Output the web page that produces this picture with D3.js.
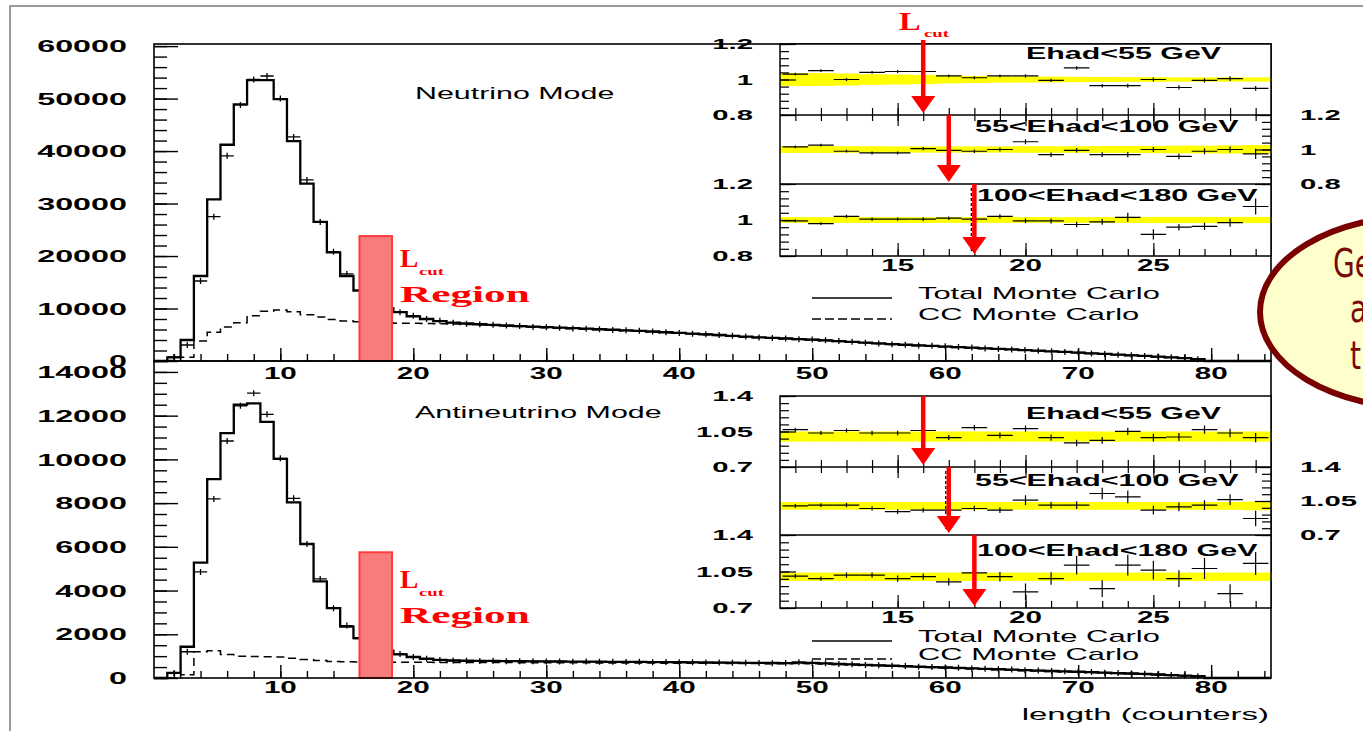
<!DOCTYPE html>
<html>
<head>
<meta charset="utf-8">
<script src="https://cdn.jsdelivr.net/npm/d3@7"></script>
<style>
  body { margin: 0; background: #fff; overflow: hidden; }
</style>
</head>
<body>
<script>
// ---- data ----
const bins = d3.range(1, 85);   // bin centres, length in counters

const nuTotal = [0, 700, 4000, 16200, 30800, 41200, 48900, 53500, 53500, 49900,
  41900, 33800, 26500, 20700, 16200, 13400, 11600, 10000, 9300, 8500,
  8000, 7600, 7300, 7150, 7000, 6880, 6760, 6640, 6540, 6450,
  6350, 6250, 6150, 6050, 5950, 5850, 5750, 5620, 5480, 5350,
  5220, 5080, 4950, 4800, 4650, 4520, 4400, 4290, 4180, 4060,
  3930, 3790, 3640, 3490, 3350, 3220, 3100, 2980, 2870, 2750,
  2640, 2530, 2420, 2310, 2200, 2080, 1960, 1840, 1720, 1600,
  1470, 1350, 1220, 1090, 960, 830, 690, 540, 350, 0,
  0, 0, 0, 0];
const nuCC = [0, 100, 700, 3800, 5500, 6500, 7300, 8600, 9500, 9700,
  9400, 8800, 8400, 7900, 7600, 7500, 7400, 7300, 7200, 7180,
  7150, 7100, 7050, 6950, 6850, 6750, 6650, 6550, 6450, 6350,
  6250, 6150, 6050, 5950, 5850, 5750, 5650, 5530, 5400, 5270,
  5140, 5000, 4870, 4720, 4580, 4450, 4330, 4220, 4110, 3990,
  3860, 3720, 3580, 3430, 3290, 3160, 3040, 2930, 2820, 2700,
  2590, 2480, 2370, 2260, 2150, 2040, 1920, 1800, 1680, 1560,
  1430, 1310, 1190, 1060, 930, 800, 670, 520, 330, 0,
  0, 0, 0, 0];
const nuData = [0, 760, 3050, 15240, 27500, 39100, 48800, 53650, 54300, 50000,
  42700, 34500, 26500, 20800, 16600, 13500, 11500, 10100, 9300, 8600,
  8000, 7650, 7300, 7100, 7000, 6900, 6750, 6650, 6500, 6450,
  6350, 6200, 6150, 6050, 5900, 5850, 5750, 5600, 5500, 5350,
  5200, 5100, 4950, 4800, 4650, 4500, 4400, 4300, 4150, 4100,
  3950, 3800, 3650, 3500, 3350, 3200, 3100, 2950, 2900, 2800,
  2650, 2550, 2400, 2300, 2200, 2100, 1950, 1850, 1700, 1650,
  1450, 1350, 1200, 1100, 950, 850, 700, 550, 350, 0,
  0, 0, 0, 0];

const anuTotal = [0, 230, 1430, 5280, 9100, 11200, 12500, 12560, 11720, 10020,
  8030, 6130, 4420, 3200, 2350, 1820, 1500, 1250, 1080, 960,
  880, 830, 800, 790, 785, 780, 775, 770, 765, 760,
  755, 750, 748, 745, 742, 740, 735, 730, 725, 720,
  715, 710, 705, 700, 695, 690, 685, 680, 700, 690,
  670, 640, 620, 600, 580, 560, 540, 520, 500, 480,
  460, 440, 420, 400, 380, 360, 340, 320, 300, 285,
  265, 245, 225, 205, 185, 160, 135, 110, 80, 0,
  0, 0, 0, 0];
const anuCC = [0, 0, 150, 1200, 1250, 1080, 1000, 980, 975, 960,
  900, 850, 800, 760, 740, 730, 725, 720, 720, 718,
  716, 714, 712, 710, 708, 706, 704, 702, 700, 698,
  696, 694, 692, 690, 688, 686, 684, 682, 680, 678,
  675, 672, 669, 666, 663, 660, 655, 650, 660, 655,
  640, 615, 595, 575, 555, 535, 515, 495, 475, 455,
  435, 415, 395, 375, 355, 335, 315, 295, 275, 260,
  240, 220, 200, 180, 160, 140, 115, 90, 60, 0,
  0, 0, 0, 0];
const anuData = [0, 230, 1200, 4850, 8190, 10840, 12450, 13030, 12060, 10050,
  8220, 6130, 4530, 3190, 2400, 1800, 1500, 1250, 1100, 960,
  880, 820, 800, 790, 780, 790, 770, 765, 770, 755,
  760, 745, 750, 740, 745, 735, 740, 725, 730, 715,
  720, 705, 710, 695, 700, 690, 680, 685, 720, 690,
  670, 640, 625, 600, 585, 560, 545, 520, 505, 480,
  465, 440, 425, 400, 385, 360, 345, 320, 305, 285,
  270, 245, 230, 205, 190, 160, 140, 110, 85, 0,
  0, 0, 0, 0];

const nuYTicks = [0, 10000, 20000, 30000, 40000, 50000, 60000];
const anuYTicks = [0, 2000, 4000, 6000, 8000, 10000, 12000, 14000];
const mainXTicks = [10, 20, 30, 40, 50, 60, 70, 80];
const lcutRegion = [15.95, 18.4];
const lcutHeightNu = 23800;
const lcutHeightAnu = 5750;

// inset ratios (data / MC) in three hadron energy bins
const insetBins = d3.range(11, 30);
const insetXTicks = [15, 20, 25];
const ehadLabels = ["Ehad<55 GeV", "55<Ehad<100 GeV", "100<Ehad<180 GeV"];
const lcutPerBin = [16, 17, 18];

const nuRatio = [
  [1.03, 1.05, 1.0, 1.04, 1.045, 1.045, 1.02, 1.01, 1.02, 1.02, 0.995, 1.065, 0.965, 0.965, 1.0, 0.955, 0.995, 1.005, 0.95],
  [1.015, 1.025, 0.99, 0.98, 0.98, 1.005, 0.995, 0.99, 1.0, 1.045, 0.97, 0.995, 0.97, 0.97, 1.0, 0.96, 0.99, 1.0, 0.975],
  [0.995, 0.98, 1.02, 1.005, 1.005, 1.005, 1.01, 1.005, 1.02, 0.995, 0.995, 0.975, 0.99, 1.015, 0.92, 0.96, 0.965, 0.985, 1.075]
];
const nuRatioErr = [
  [0.008, 0.008, 0.008, 0.008, 0.008, 0.008, 0.008, 0.008, 0.008, 0.009, 0.009, 0.01, 0.01, 0.011, 0.011, 0.012, 0.012, 0.013, 0.014],
  [0.008, 0.008, 0.008, 0.009, 0.009, 0.009, 0.01, 0.01, 0.011, 0.015, 0.013, 0.013, 0.014, 0.015, 0.015, 0.016, 0.017, 0.018, 0.03],
  [0.008, 0.008, 0.009, 0.009, 0.009, 0.01, 0.01, 0.011, 0.012, 0.013, 0.014, 0.015, 0.016, 0.025, 0.028, 0.018, 0.02, 0.022, 0.045]
];
const nuBand = [
  [0.036, 0.036, 0.034, 0.03, 0.028, 0.026, 0.022, 0.02, 0.018, 0.017, 0.016, 0.015, 0.014, 0.013, 0.013, 0.012, 0.012, 0.012, 0.012],
  [0.02, 0.02, 0.019, 0.019, 0.018, 0.018, 0.018, 0.018, 0.018, 0.019, 0.019, 0.019, 0.02, 0.02, 0.021, 0.022, 0.022, 0.024, 0.026],
  [0.016, 0.016, 0.016, 0.016, 0.016, 0.016, 0.016, 0.016, 0.016, 0.016, 0.016, 0.016, 0.016, 0.016, 0.017, 0.017, 0.017, 0.017, 0.017]
];
const anuRatio = [
  [1.068, 1.035, 1.06, 1.035, 1.035, 1.06, 0.99, 1.088, 1.012, 1.078, 0.99, 0.937, 0.963, 1.052, 0.99, 0.996, 1.068, 1.035, 0.99],
  [1.0, 1.007, 1.007, 0.973, 0.94, 0.956, 0.956, 0.973, 0.956, 1.058, 1.007, 1.007, 1.127, 1.093, 0.956, 0.99, 1.007, 1.065, 0.87],
  [1.005, 0.982, 1.015, 1.015, 0.982, 1.0, 0.95, 1.037, 1.0, 0.854, 0.982, 1.111, 0.886, 1.111, 1.063, 0.982, 1.079, 0.838, 1.127]
];
const anuRatioErr = [
  [0.02, 0.02, 0.02, 0.022, 0.022, 0.024, 0.025, 0.026, 0.028, 0.03, 0.03, 0.032, 0.034, 0.036, 0.038, 0.04, 0.04, 0.042, 0.045],
  [0.02, 0.02, 0.022, 0.022, 0.024, 0.025, 0.026, 0.028, 0.03, 0.05, 0.035, 0.04, 0.06, 0.065, 0.045, 0.045, 0.05, 0.055, 0.08],
  [0.02, 0.02, 0.025, 0.025, 0.03, 0.03, 0.035, 0.04, 0.045, 0.08, 0.06, 0.09, 0.08, 0.1, 0.09, 0.08, 0.1, 0.09, 0.11]
];
const anuBand = [
  [0.05, 0.05, 0.05, 0.05, 0.05, 0.05, 0.05, 0.05, 0.05, 0.05, 0.05, 0.05, 0.05, 0.05, 0.05, 0.05, 0.05, 0.05, 0.05],
  [0.04, 0.04, 0.04, 0.04, 0.04, 0.04, 0.04, 0.04, 0.04, 0.04, 0.04, 0.04, 0.04, 0.04, 0.04, 0.04, 0.04, 0.04, 0.045],
  [0.04, 0.04, 0.04, 0.04, 0.04, 0.04, 0.04, 0.04, 0.04, 0.04, 0.04, 0.04, 0.04, 0.04, 0.04, 0.04, 0.04, 0.04, 0.04]
];

// ---- setup ----
const W = 1363, H = 731;
const SANS = "'Liberation Sans', Arial, Helvetica, sans-serif";
const SERIF = "'Liberation Serif', 'Times New Roman', serif";
const SX = 1.9;   // the source picture is stretched sideways

const svg = d3.select("body").append("svg")
  .attr("width", W).attr("height", H)
  .style("display", "block");

function label(sel, x, y, str, o) {
  o = o || {};
  return sel.append("text")
    .attr("transform", `translate(${x},${y}) scale(${o.sx || SX},1)`)
    .attr("text-anchor", o.anchor || "start")
    .attr("dy", o.dy == null ? "0.36em" : o.dy)
    .style("font-family", o.family || SANS)
    .style("font-size", (o.size || 16) + "px")
    .style("font-weight", o.weight || "normal")
    .attr("fill", o.fill || "#000")
    .text(str);
}

function styleAxis(g, w) {
  g.select(".domain").remove();
  g.selectAll("line").attr("stroke", "#000").attr("stroke-width", w || 1.4);
  return g;
}

// slide border
svg.append("path")
  .attr("d", `M10,${H} V6 H${W}`)
  .attr("fill", "none").attr("stroke", "#7a7a7a").attr("stroke-width", 1.5);

const xMain = d3.scaleLinear().domain([0.5, 84.5]).range([154, 1271]);
const yNu = d3.scaleLinear().domain([0, 60400]).range([361, 44]);
const yAnu = d3.scaleLinear().domain([0, 14500]).range([678, 361]);
const xIns = d3.scaleLinear().domain([10.4, 29.6]).range([780, 1271]);

function steps(vals) {
  const pts = [];
  bins.forEach((b, i) => { pts.push([b - 0.5, vals[i]], [b + 0.5, vals[i]]); });
  return pts;
}

function mainPanel(y, total, cc, data, yTicks, minorStep, o) {
  const g = svg.append("g");
  const line = d3.line().x(d => xMain(d[0])).y(d => y(d[1]));

  // ticks on the left axis, pointing inward
  styleAxis(g.append("g").attr("transform", `translate(${xMain.range()[0]},0)`)
    .call(d3.axisRight(y).tickValues(d3.range(0, y.domain()[1], minorStep)).tickSize(13).tickFormat("")));
  styleAxis(g.append("g").attr("transform", `translate(${xMain.range()[0]},0)`)
    .call(d3.axisRight(y).tickValues(yTicks).tickSize(24).tickFormat("")));
  // ticks on the bottom axis, pointing up
  styleAxis(g.append("g").attr("transform", `translate(0,${y.range()[0]})`)
    .call(d3.axisTop(xMain).tickValues(d3.range(2, 85, 2)).tickSize(7).tickFormat("")));
  styleAxis(g.append("g").attr("transform", `translate(0,${y.range()[0]})`)
    .call(d3.axisTop(xMain).tickValues(mainXTicks).tickSize(13).tickFormat("")));

  // CC Monte Carlo (dashed)
  g.append("path").attr("d", line(steps(cc)))
    .attr("fill", "none").attr("stroke", "#000").attr("stroke-width", 1.5)
    .attr("stroke-dasharray", "8,5");
  // Total Monte Carlo
  g.append("path").attr("d", line(steps(total)))
    .attr("fill", "none").attr("stroke", "#000").attr("stroke-width", 2.3);
  // data points
  g.append("g").selectAll("path")
    .data(bins.filter((b, i) => data[i] > 0))
    .join("path")
    .attr("d", b => {
      const v = data[b - 1], yy = y(v);
      return `M${xMain(b - 0.5)},${yy}H${xMain(b + 0.5)}M${xMain(b)},${yy - 3}V${yy + 3}`;
    })
    .attr("fill", "none").attr("stroke", "#000").attr("stroke-width", 1.3);

  // L_cut region
  g.append("rect")
    .attr("x", xMain(lcutRegion[0])).attr("width", xMain(lcutRegion[1]) - xMain(lcutRegion[0]))
    .attr("y", y(o.lcutH)).attr("height", y(0) - y(o.lcutH))
    .attr("fill", "#f87c7c").attr("stroke", "#ff3c3c").attr("stroke-width", 2);
  label(g, 400, o.lTop, "L", { family: SERIF, weight: "bold", size: 25, sx: 1.1, dy: 0, fill: "#ff0000" });
  label(g, 419, o.lTop + 8, "cut", { family: SERIF, weight: "bold", size: 11, sx: 1.7, dy: 0, fill: "#ff0000" });
  label(g, 400, o.lTop + 35, "Region", { family: SERIF, weight: "bold", size: 23, sx: 1.88, dy: 0, fill: "#ff0000" });

  // mode label
  label(g, 415, o.modeY, o.mode, { size: 16 });

  // y tick labels
  yTicks.forEach(v => label(g, 127, y(v), String(v), { anchor: "end", size: 17, weight: "bold" }));

  // legend
  const lg = g.append("g");
  lg.append("line").attr("x1", 812).attr("x2", 892).attr("y1", o.legY[0]).attr("y2", o.legY[0])
    .attr("stroke", "#000").attr("stroke-width", 1.5);
  lg.append("line").attr("x1", 812).attr("x2", 892).attr("y1", o.legY[1]).attr("y2", o.legY[1])
    .attr("stroke", "#000").attr("stroke-width", 1.5).attr("stroke-dasharray", "9,4");
  label(lg, 918, o.legY[0] - 5, "Total Monte Carlo", { size: 16, sx: 1.93 });
  label(lg, 918, o.legY[1] - 5, "CC Monte Carlo", { size: 16, sx: 1.93 });
  return g;
}

const topPanel = mainPanel(yNu, nuTotal, nuCC, nuData, nuYTicks, 2000,
  { lcutH: lcutHeightNu, lTop: 267, mode: "Neutrino Mode", modeY: 93, legY: [298, 319] });
const botPanel = mainPanel(yAnu, anuTotal, anuCC, anuData, anuYTicks, 500,
  { lcutH: lcutHeightAnu, lTop: 588, mode: "Antineutrino Mode", modeY: 412, legY: [641, 659] });

// panel frames
[[yNu], [yAnu]].forEach(([y]) => {
  svg.append("rect")
    .attr("x", xMain.range()[0]).attr("y", y.range()[1])
    .attr("width", xMain.range()[1] - xMain.range()[0]).attr("height", y.range()[0] - y.range()[1])
    .attr("fill", "none").attr("stroke", "#000").attr("stroke-width", 1.6);
});

// ---- insets ----
function drawInset(o) {
  const g = svg.append("g");
  const rows = o.rows;
  const [x0, x1] = xIns.range();
  g.append("rect").attr("x", x0).attr("y", rows[0]).attr("width", x1 - x0)
    .attr("height", rows[3] - rows[0]).attr("fill", "#fff");

  const minorY = d3.range(0, 11).map(i => +(o.domain[0] + i * (o.domain[1] - o.domain[0]) / 10).toFixed(3));

  [0, 1, 2].forEach(r => {
    const y = d3.scaleLinear().domain(o.domain).range([rows[r + 1], rows[r]]);
    const n = insetBins.length;
    // MC band
    g.append("g").selectAll("rect").data(insetBins).join("rect")
      .attr("x", (b, i) => i === 0 ? x0 : xIns(b - 0.5))
      .attr("width", (b, i) => (i === n - 1 ? x1 : xIns(b + 0.5)) - (i === 0 ? x0 : xIns(b - 0.5)) + 0.6)
      .attr("y", (b, i) => y(1 + o.band[r][i]))
      .attr("height", (b, i) => y(1 - o.band[r][i]) - y(1 + o.band[r][i]))
      .attr("fill", "#ffff00");
    // data/MC points
    g.append("g").selectAll("path").data(insetBins).join("path")
      .attr("d", (b, i) => {
        const yy = y(o.ratio[r][i]);
        const xa = Math.max(x0, xIns(b - 0.5)), xb = Math.min(x1, xIns(b + 0.5));
        return `M${xa},${yy}H${xb}M${xIns(b)},${y(o.ratio[r][i] + o.err[r][i])}V${y(o.ratio[r][i] - o.err[r][i])}`;
      })
      .attr("fill", "none").attr("stroke", "#000").attr("stroke-width", 1.2);

    // y ticks: left for rows 0 and 2, right for row 1
    const left = r !== 1;
    const ax = () => left ? d3.axisRight(y) : d3.axisLeft(y);
    styleAxis(g.append("g").attr("transform", `translate(${left ? x0 : x1},0)`)
      .call(ax().tickValues(minorY).tickSize(9).tickFormat("")), 1.2);
    styleAxis(g.append("g").attr("transform", `translate(${left ? x0 : x1},0)`)
      .call(ax().tickValues(o.yTicks).tickSize(16).tickFormat("")), 1.2);
    o.yTicks.forEach((v, i) => {
      label(g, left ? 753 : 1300, y(v), o.yLabels[i], { anchor: left ? "end" : "start", size: 15, weight: "bold", sx: 1.95 });
    });

    // energy bin label
    label(g, o.ehadX[r], rows[r] + o.ehadDy[r], ehadLabels[r], { size: 16, weight: "bold", sx: 1.9 });
  });

  // x ticks at bottom and on the first divider
  const xt = (axis, yPos, size, vals) => styleAxis(g.append("g").attr("transform", `translate(0,${yPos})`)
    .call(axis(xIns).tickValues(vals).tickSize(size).tickFormat("")), 1.2);
  xt(d3.axisTop, rows[3], 7, insetBins);
  xt(d3.axisTop, rows[3], 13, insetXTicks);
  xt(d3.axisTop, rows[1], 7, insetBins);
  xt(d3.axisTop, rows[1], 12, insetXTicks);
  xt(d3.axisBottom, rows[1], 6, insetBins);
  xt(d3.axisBottom, rows[1], 11, insetXTicks);
  insetXTicks.forEach(v => label(g, xIns(v), o.xLabelY, String(v), { anchor: "middle", size: 16, weight: "bold", sx: 1.85 }));

  // frame
  g.append("rect").attr("x", x0).attr("y", rows[0]).attr("width", x1 - x0).attr("height", rows[3] - rows[0])
    .attr("fill", "none").attr("stroke", "#000").attr("stroke-width", 1.5);
  [rows[1], rows[2]].forEach(yy => g.append("line").attr("x1", x0).attr("x2", x1)
    .attr("y1", yy).attr("y2", yy).attr("stroke", "#000").attr("stroke-width", 1.5));

  // black dashed L_cut marker in one row
  g.append("line")
    .attr("x1", xIns(lcutPerBin[o.dashRow]) - 3).attr("x2", xIns(lcutPerBin[o.dashRow]) - 3)
    .attr("y1", rows[o.dashRow] + 4).attr("y2", rows[o.dashRow + 1] - 4)
    .attr("stroke", "#000").attr("stroke-width", 1.3).attr("stroke-dasharray", "3,2");

  // red L_cut arrows
  [0, 1, 2].forEach(r => {
    const x = xIns(lcutPerBin[r]);
    const ya = r === 0 ? o.arrowTop : rows[r];
    const yb = rows[r + 1] - 2;
    g.append("line").attr("x1", x).attr("x2", x).attr("y1", ya).attr("y2", yb - 14)
      .attr("stroke", "#ff0000").attr("stroke-width", 4.5);
    g.append("path").attr("d", `M${x - 12},${yb - 17}L${x + 12},${yb - 17}L${x},${yb}Z`)
      .attr("fill", "#ff0000");
  });
  return g;
}

drawInset({
  rows: [44, 115, 184, 256], domain: [0.8, 1.2],
  yTicks: [0.8, 1, 1.2], yLabels: ["0.8", "1", "1.2"],
  ratio: nuRatio, err: nuRatioErr, band: nuBand,
  ehadX: [1026, 975, 977], ehadDy: [9, 11, 11],
  xLabelY: 265, arrowTop: 40, dashRow: 2
});
drawInset({
  rows: [396, 467, 535, 608], domain: [0.7, 1.4],
  yTicks: [0.7, 1.05, 1.4], yLabels: ["0.7", "1.05", "1.4"],
  ratio: anuRatio, err: anuRatioErr, band: anuBand,
  ehadX: [1026, 975, 977], ehadDy: [17, 13, 15],
  xLabelY: 617, arrowTop: 396, dashRow: 1
});

// L_cut label above the upper inset
label(svg, 899, 30, "L", { family: SERIF, weight: "bold", size: 25, sx: 1.3, dy: 0, fill: "#ff0000" });
label(svg, 924, 37, "cut", { family: SERIF, weight: "bold", size: 11, sx: 1.7, dy: 0, fill: "#ff0000" });

// x tick labels (upper panel labels sit inside the lower panel)
mainXTicks.forEach(v => {
  label(svg, xMain(v), 373, String(v), { anchor: "middle", size: 16, weight: "bold", sx: 1.85 });
  label(svg, xMain(v), 687, String(v), { anchor: "middle", size: 16, weight: "bold", sx: 1.85 });
});
label(svg, 1269, 714, "length (counters)", { anchor: "end", size: 17, sx: 1.94 });

// slide call-out, cut by the right edge
const callout = svg.append("g");
callout.append("ellipse")
  .attr("cx", 1420).attr("cy", 312).attr("rx", 160).attr("ry", 96)
  .attr("fill", "#ffffcc").attr("stroke", "#7a0000").attr("stroke-width", 6);
[["Generally good", 1333, 277], ["agreement", 1350, 322], ["throughout", 1350, 369]].forEach(([t, x, y]) => {
  label(callout, x, y, t, {
    family: "'DejaVu Sans Condensed', 'Liberation Sans Narrow', 'DejaVu Sans', sans-serif",
    size: 39, sx: 0.8, dy: 0, fill: "#7a0a0a"
  });
});
</script>
</body>
</html>
